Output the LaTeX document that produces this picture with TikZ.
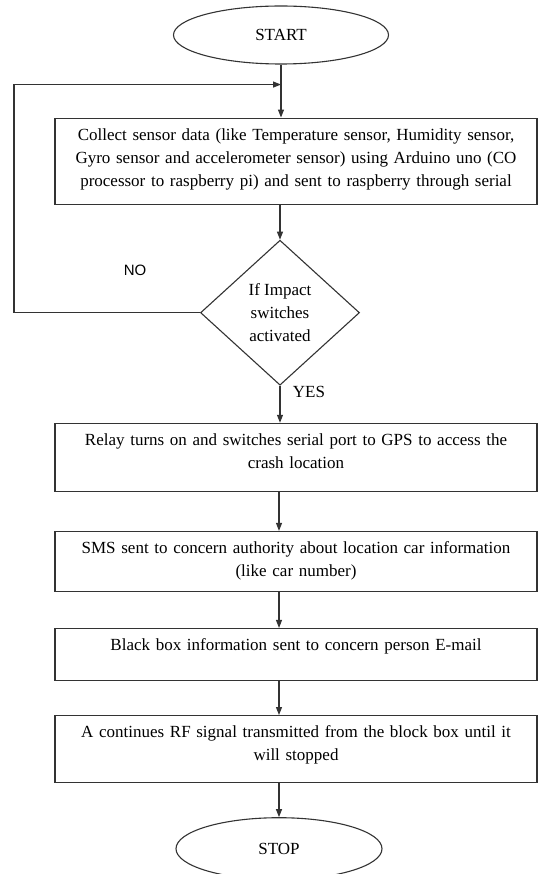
\documentclass[tikz,border=0pt]{standalone}
\usepackage{fontspec}
\setmainfont{Liberation Serif}
\newfontfamily\arialfont{Liberation Sans}
\usepackage{tikz}
\usetikzlibrary{positioning,arrows.meta,shapes.geometric}
\definecolor{lineGray}{HTML}{333333}

\begin{document}
\begin{tikzpicture}[
    line width=1.1pt,
    font=\fontsize{17}{23}\selectfont,
    terminal/.style={draw=lineGray, ellipse, inner sep=0pt},
    procbox/.style={draw=lineGray, rectangle, text width=482pt, minimum width=482pt,
      inner xsep=0pt, inner ysep=10pt, text height=12pt, align=center},
    decision/.style={draw=lineGray, diamond, aspect=1.1, inner sep=0pt,
      minimum width=159pt, minimum height=145pt, align=center},
    flow/.style={draw=lineGray, -{Triangle[length=8pt,width=6pt]}},
    answer/.style={inner sep=0pt}
  ]
  \useasboundingbox (0,0) rectangle (538pt,-874pt);

  \node[terminal, minimum width=215pt, minimum height=58pt] (start) at (281pt,-35pt) {START};
  \coordinate[below=20pt of start] (merge);
  \node[procbox, text depth=54pt, below=53pt of start, xshift=15pt] (collect)
    {Collect sensor data (like Temperature sensor, Humidity sensor,\\
     Gyro sensor and accelerometer sensor) using Arduino uno (CO\\
     processor to raspberry pi) and sent to raspberry through serial};
  \node[decision, below=35pt of collect, xshift=-16pt] (check)
    {If Impact\\switches\\activated};
  \node[procbox, text depth=36pt, below=37pt of check, xshift=16pt] (relay)
    {Relay turns on and switches serial port to GPS to access the\\crash location};
  \node[procbox, text depth=28pt, below=39pt of relay] (sms)
    {SMS sent to concern authority about location car information\\(like car number)};
  \node[procbox, text depth=20pt, below=36pt of sms] (mail)
    {Black box information sent to concern person E-mail};
  \node[procbox, text depth=35pt, below=34pt of mail] (rf)
    {A continues RF signal transmitted from the block box until it\\will stopped};
  \node[terminal, minimum width=206pt, minimum height=62pt, below=34pt of rf, xshift=-17pt] (stop) {STOP};

  \node[answer, font=\arialfont\fontsize{15}{18}\selectfont] (no) at (135pt,-270pt) {NO};
  \node[answer] (yes) at (309pt,-392pt) {YES};

  \draw[flow] (start) -- (start |- collect.north);
  \draw[flow] (check |- collect.south) -- (check);
  \draw[flow] (check.west) -- ++(-186pt,0) |- (merge);
  \draw[flow] (check) -- (check |- relay.north);
  \draw[flow] (stop |- relay.south) -- (stop |- sms.north);
  \draw[flow] (stop |- sms.south) -- (stop |- mail.north);
  \draw[flow] (stop |- mail.south) -- (stop |- rf.north);
  \draw[flow] (stop |- rf.south) -- (stop);
\end{tikzpicture}
\end{document}
